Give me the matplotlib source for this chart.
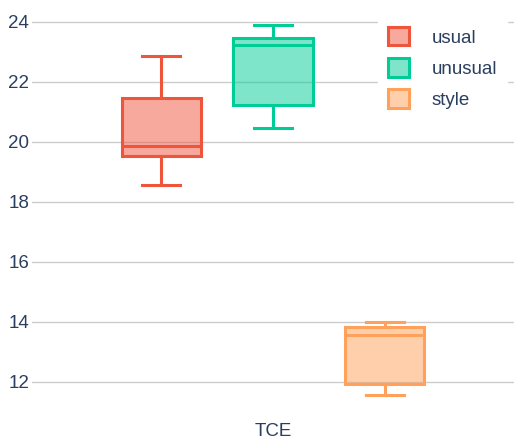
import matplotlib.pyplot as plt
from matplotlib.patches import Patch
from matplotlib.colors import to_rgba

plt.rcParams["font.family"] = ["Liberation Sans", "DejaVu Sans"]

# box statistics
names = ["usual", "unusual", "style"]
colors = ["#EF553B", "#00CC96", "#FFA15A"]
lows = [18.58, 20.47, 11.57]
q1s = [19.53, 21.23, 11.93]
medians = [19.87, 23.23, 13.57]
q3s = [21.47, 23.47, 13.83]
highs = [22.87, 23.9, 14.0]
category = "TCE"

offsets = [-0.232, 0.0, 0.232]
text_color = "#2a3f5f"

fig = plt.figure(figsize=(5.16, 4.42), dpi=100)
ax = fig.add_axes([32 / 516, 30 / 442, 482 / 516, 402 / 442])

for i in range(len(names)):
    stats = [dict(med=medians[i], q1=q1s[i], q3=q3s[i], whislo=lows[i], whishi=highs[i], fliers=[])]
    c = colors[i]
    line = dict(color=c, linewidth=2.2)
    ax.bxp(stats, positions=[offsets[i]], widths=0.164, capwidths=0.08, patch_artist=True,
           boxprops=dict(facecolor=to_rgba(c, 0.5), edgecolor=c, linewidth=2.2),
           medianprops=line, whiskerprops=line, capprops=line, manage_ticks=False, zorder=3)

ax.set_xlim(-0.5, 0.5)
ax.set_ylim(11.0, 24.4)
ax.set_yticks([12, 14, 16, 18, 20, 22, 24])
ax.set_xticks([0])
ax.set_xticklabels([category])
ax.grid(axis="y", color="#cccccc", linewidth=1)
ax.set_axisbelow(True)
for s in ax.spines.values():
    s.set_visible(False)
ax.tick_params(axis="both", length=0, labelsize=13.5, labelcolor=text_color)
ax.tick_params(axis="y", pad=2)
ax.tick_params(axis="x", pad=8)

handles = [Patch(facecolor=to_rgba(c, 0.5), edgecolor=c, linewidth=2.2) for c in colors]
leg = ax.legend(handles, names, loc="upper right", bbox_to_anchor=(1.0, 1.0), frameon=True,
                fontsize=13.5, handlelength=1.15, handleheight=1.15, handletextpad=1.2,
                labelspacing=0.62, borderpad=0.5, borderaxespad=0.4)
leg.get_frame().set_facecolor("white")
leg.get_frame().set_edgecolor("white")
leg.get_frame().set_alpha(1)
for t in leg.get_texts():
    t.set_color(text_color)

fig.savefig("out.png", dpi=100)
